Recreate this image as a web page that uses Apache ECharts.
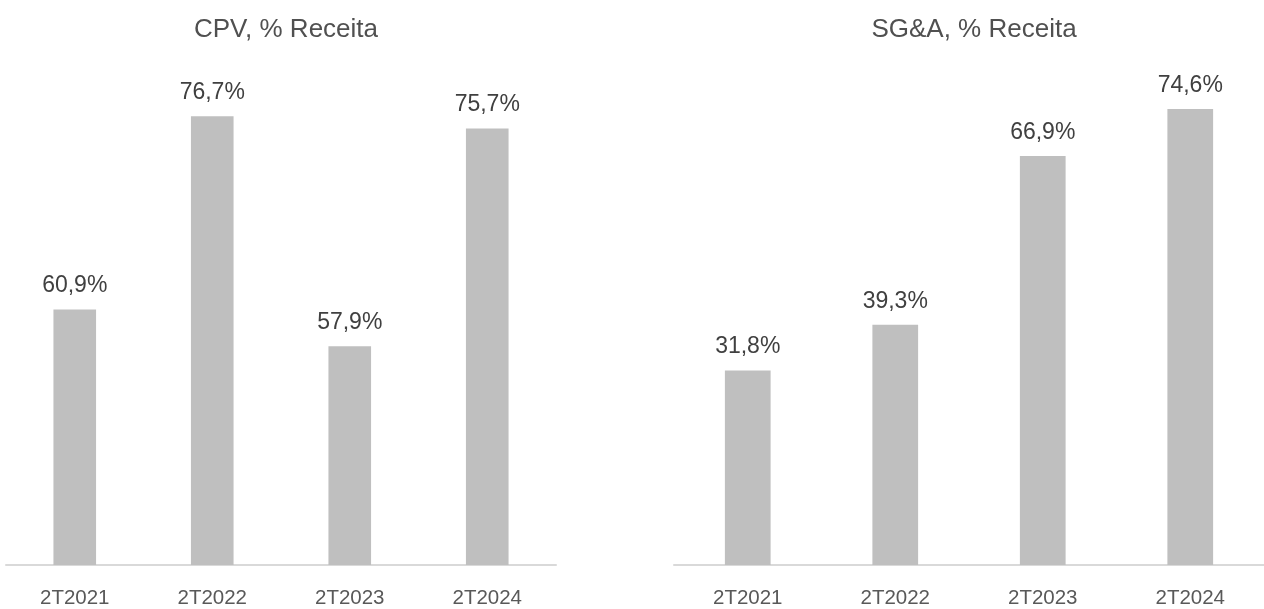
<!DOCTYPE html>
<html>
<head>
<meta charset="utf-8">
<script src="https://cdn.jsdelivr.net/npm/echarts@6/dist/echarts.min.js"></script>
<style>
  html, body { margin: 0; padding: 0; background: #ffffff; }
  #chart { width: 1264px; height: 609px; }
</style>
</head>
<body>
<div id="chart"></div>
<script>
// Quarters shown on both panels
const periods = ['2T2021', '2T2022', '2T2023', '2T2024'];
// Cost of goods sold as % of revenue
const cpvValues = [60.9, 76.7, 57.9, 75.7];
// SG&A as % of revenue
const sgaValues = [31.8, 39.3, 66.9, 74.6];
const titles = ['CPV, % Receita', 'SG&A, % Receita'];

const FONT = '"Liberation Sans", Arial, sans-serif';
const fmt = v => v.toFixed(1).replace('.', ',') + '%';

const chart = echarts.init(document.getElementById('chart'), null, { renderer: 'canvas' });

const gridTop = 76, gridBottom = 41.5;
const xAxisCommon = {
  type: 'category',
  data: periods,
  axisLine: { lineStyle: { color: '#d9d9d9', width: 2 } },
  axisTick: { show: false },
  axisLabel: { color: '#595959', fontSize: 20.5, fontFamily: FONT, margin: 23 }
};
const yAxisCommon = { type: 'value', show: false, splitLine: { show: false } };
const barCommon = {
  type: 'bar',
  barWidth: '31%',
  itemStyle: { color: '#bfbfbf' },
  label: {
    show: true, position: 'top', distance: 12,
    color: '#404040', fontSize: 23, fontFamily: FONT,
    formatter: p => fmt(p.value)
  }
};
const titleStyle = { color: '#505050', fontSize: 26, fontWeight: 'normal', fontFamily: FONT };

chart.setOption({
  animation: false,
  backgroundColor: '#ffffff',
  title: [
    { text: titles[0], left: 281, top: 12, textAlign: 'center', textStyle: titleStyle },
    { text: titles[1], left: 969, top: 12, textAlign: 'center', textStyle: titleStyle }
  ],
  grid: [
    { left: 6, width: 550, top: gridTop, bottom: gridBottom },
    { left: 674, width: 590, top: gridTop, bottom: gridBottom }
  ],
  xAxis: [
    Object.assign({ gridIndex: 0 }, xAxisCommon),
    Object.assign({ gridIndex: 1 }, xAxisCommon)
  ],
  yAxis: [
    Object.assign({ gridIndex: 0, min: 40, max: 80 }, yAxisCommon),
    Object.assign({ gridIndex: 1, min: 0, max: 80 }, yAxisCommon)
  ],
  series: [
    Object.assign({ xAxisIndex: 0, yAxisIndex: 0, data: cpvValues }, barCommon),
    Object.assign({ xAxisIndex: 1, yAxisIndex: 1, data: sgaValues }, barCommon)
  ]
});
</script>
</body>
</html>
